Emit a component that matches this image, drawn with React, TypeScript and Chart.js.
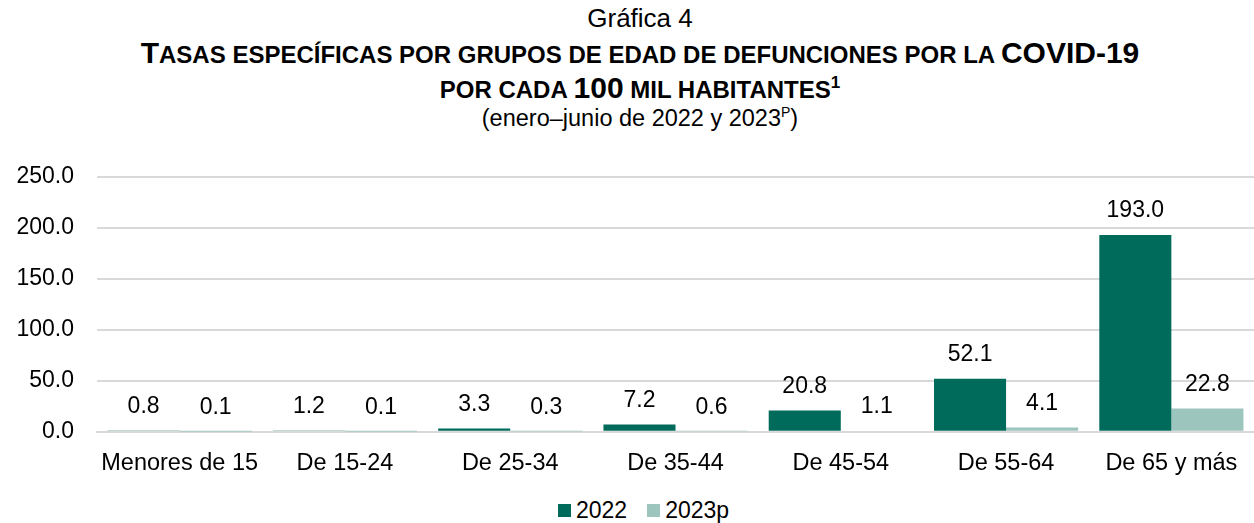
import React, { useEffect, useRef } from "react";
import { Chart, registerables } from "chart.js";
Chart.register(...registerables);

const categories = ["Menores de 15", "De 15-24", "De 25-34", "De 35-44", "De 45-54", "De 55-64", "De 65 y más"];
const values2022 = [0.8, 1.2, 3.3, 7.2, 20.8, 52.1, 193.0];
const values2023 = [0.1, 0.1, 0.3, 0.6, 1.1, 4.1, 22.8];
const seriesNames = ["2022", "2023p"];
const seriesColors = ["#006B5A", "#9CC5BE"];
const yTicks = [0, 50, 100, 150, 200, 250];

const FONT = "'Liberation Sans', Arial, sans-serif";

const labelPlugin = {
  id: "valueLabels",
  afterDatasetsDraw(chart: any) {
    const ctx = chart.ctx;
    ctx.save();
    ctx.font = `23px ${FONT}`;
    ctx.fillStyle = "#000";
    ctx.textAlign = "center";
    ctx.textBaseline = "middle";
    chart.data.datasets.forEach((ds: any, i: number) => {
      const meta = chart.getDatasetMeta(i);
      meta.data.forEach((bar: any, j: number) => {
        ctx.fillText(Number(ds.data[j]).toFixed(1), bar.x, bar.y - 24);
      });
    });
    ctx.restore();
  },
};

const B = (t: string) => <span style={{ fontSize: 30 }}>{t}</span>;

export default function App() {
  const ref = useRef<HTMLCanvasElement>(null);
  useEffect(() => {
    const chart = new Chart(ref.current!, {
      type: "bar",
      data: {
        labels: categories,
        datasets: [
          { label: seriesNames[0], data: values2022, backgroundColor: seriesColors[0], categoryPercentage: 0.872, barPercentage: 1 },
          { label: seriesNames[1], data: values2023, backgroundColor: seriesColors[1], categoryPercentage: 0.872, barPercentage: 1 },
        ],
      },
      options: {
        responsive: false,
        animation: false,
        layout: { padding: { left: 15, right: 0, top: 0, bottom: 0 } },
        plugins: {
          legend: { display: false },
          tooltip: { enabled: false },
        },
        scales: {
          x: {
            grid: { display: false },
            border: { color: "#d9d9d9", width: 2 },
            ticks: { font: { family: FONT, size: 23.5 }, color: "#000", padding: 10, maxRotation: 0, minRotation: 0, autoSkip: false },
            afterFit: (axis: any) => {
              axis.paddingLeft = 0;
              axis.paddingRight = 0;
            },
          },
          y: {
            min: 0,
            max: 250,
            afterBuildTicks: (axis: any) => {
              axis.ticks = yTicks.map((v) => ({ value: v }));
            },
            afterFit: (axis: any) => {
              axis.width = 82;
            },
            grid: { color: "#d9d9d9", lineWidth: 2, drawTicks: false },
            border: { display: false },
            ticks: {
              font: { family: FONT, size: 23 },
              color: "#000",
              padding: 23,
              callback: (v: any) => Number(v).toFixed(1),
            },
          },
        },
      },
      plugins: [labelPlugin],
    });
    return () => chart.destroy();
  }, []);

  const base: React.CSSProperties = {
    position: "absolute",
    left: 13,
    width: 1254,
    textAlign: "center",
    fontFamily: FONT,
    color: "#000",
    whiteSpace: "nowrap",
  };
  const bold: React.CSSProperties = { ...base, fontSize: 24, fontWeight: "bold", lineHeight: "34px" };
  const box = (c: string): React.CSSProperties => ({ display: "inline-block", width: 13, height: 13, background: c, marginRight: 5 });
  return (
    <div style={{ position: "absolute", left: 0, top: 0, width: 1254, height: 523, background: "#fff", overflow: "hidden" }}>
      <div style={{ ...base, top: 3, fontSize: 26, lineHeight: "30px" }}>Gráfica 4</div>
      <div style={{ ...bold, top: 36 }}>
        {B("T")}ASAS ESPECÍFICAS POR GRUPOS DE EDAD DE DEFUNCIONES POR LA {B("COVID-19")}
      </div>
      <div style={{ ...bold, top: 71 }}>
        POR CADA {B("100")} MIL HABITANTES<sup style={{ fontSize: 17, verticalAlign: "10px", lineHeight: 0 }}>1</sup>
      </div>
      <div style={{ ...base, top: 104, fontSize: 23.5, lineHeight: "28px" }}>
        (enero–junio de 2022 y 2023<sup style={{ fontSize: 14, verticalAlign: "9px", lineHeight: 0 }}>P</sup>)
      </div>
      <canvas ref={ref} width={1254} height={348} style={{ position: "absolute", left: 0, top: 140, display: "block" }} />
      <div style={{ position: "absolute", left: 558, top: 496, height: 28, display: "flex", alignItems: "center", fontFamily: FONT, fontSize: 23, lineHeight: "28px", color: "#000", whiteSpace: "nowrap" }}>
        <span style={box(seriesColors[0])} />
        <span>{seriesNames[0]}</span>
        <span style={{ ...box(seriesColors[1]), marginLeft: 20 }} />
        <span>{seriesNames[1]}</span>
      </div>
    </div>
  );
}
